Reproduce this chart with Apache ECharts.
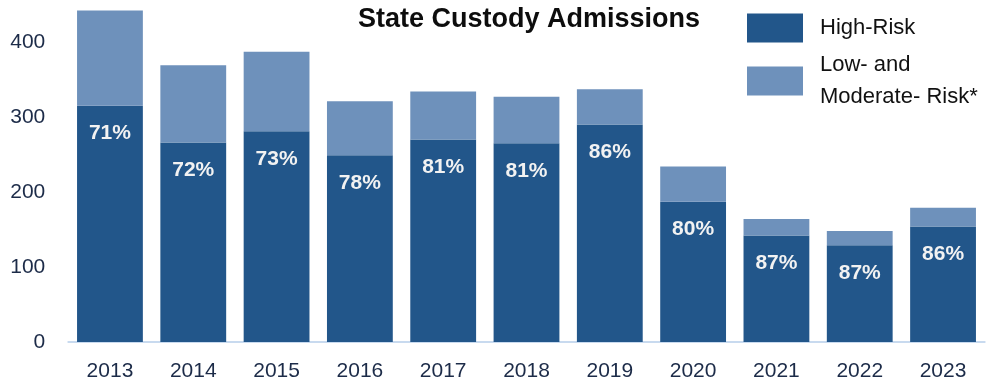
<!DOCTYPE html>
<html>
<head>
<meta charset="utf-8">
<title>State Custody Admissions</title>
<script src="https://cdn.jsdelivr.net/npm/echarts@6/dist/echarts.min.js"></script>
<style>
  html, body { margin: 0; padding: 0; background: #ffffff; }
  #chart { width: 990px; height: 386px; }
</style>
</head>
<body>
<div id="chart"></div>
<script>
// Admission years
const years = ['2013', '2014', '2015', '2016', '2017', '2018', '2019', '2020', '2021', '2022', '2023'];
// High-risk admissions per year
const highRisk = [315, 266, 281, 249, 270, 265, 290, 187, 142, 129, 154];
// Low- and moderate-risk admissions per year
const lowModRisk = [127, 103, 106, 72, 64, 62, 47, 47, 22, 19, 25];
// Value-axis ticks
const yTicks = [0, 100, 200, 300, 400];

const FONT = '"Liberation Sans", Arial, sans-serif';
const DARK = '#22568a';
const LIGHT = '#6e91bb';

// Share of high-risk admissions in each year's total
const shareLabel = (i) => Math.round(highRisk[i] / (highRisk[i] + lowModRisk[i]) * 100) + '%';

const chart = echarts.init(document.getElementById('chart'), null, { renderer: 'canvas' });

chart.setOption({
  animation: false,
  backgroundColor: '#ffffff',
  title: {
    text: 'State Custody Admissions',
    left: 529,
    top: 6,
    textAlign: 'center',
    padding: 0,
    textStyle: { fontFamily: FONT, fontSize: 27, fontWeight: 'bold', color: '#0d0d0d' }
  },
  legend: [
    {
      data: ['High-Risk'],
      left: 747,
      top: 12,
      padding: 0,
      itemWidth: 56,
      itemHeight: 29,
      icon: 'rect',
      selectedMode: false,
      textStyle: { fontFamily: FONT, fontSize: 22, color: '#111111', lineHeight: 32, padding: [0, 0, 0, 12] }
    },
    {
      data: ['Low- and Moderate- Risk*'],
      left: 747,
      top: 49,
      padding: 0,
      itemWidth: 56,
      itemHeight: 29,
      icon: 'rect',
      selectedMode: false,
      formatter: () => 'Low- and\nModerate- Risk*',
      textStyle: { fontFamily: FONT, fontSize: 22, color: '#111111', lineHeight: 32, padding: [0, 0, 0, 12] }
    }
  ],
  grid: { left: 68.3, right: 5.3, top: 4.5, bottom: 44, containLabel: false },
  xAxis: {
    type: 'category',
    data: years,
    axisLine: { show: true, lineStyle: { color: '#c8daef', width: 2 } },
    axisTick: { show: false },
    axisLabel: { fontFamily: FONT, fontSize: 21, color: '#1c2b48', margin: 19 }
  },
  yAxis: {
    type: 'value',
    min: 0,
    max: 450,
    interval: 100,
    axisLine: { show: false },
    axisTick: { show: false },
    splitLine: { show: false },
    axisLabel: {
      fontFamily: FONT, fontSize: 21, color: '#1c2b48', margin: 23,
      showMaxLabel: false,
      formatter: (v) => (yTicks.indexOf(v) >= 0 ? String(v) : '')
    }
  },
  series: [
    {
      name: 'High-Risk',
      type: 'bar',
      stack: 'total',
      barCategoryGap: '21%',
      data: highRisk,
      itemStyle: { color: DARK },
      label: {
        show: true,
        position: 'insideTop',
        distance: 17,
        fontFamily: FONT,
        fontSize: 21,
        fontWeight: 'bold',
        color: '#f2f2f2',
        formatter: (p) => shareLabel(p.dataIndex)
      }
    },
    {
      name: 'Low- and Moderate- Risk*',
      type: 'bar',
      stack: 'total',
      data: lowModRisk,
      itemStyle: { color: LIGHT }
    }
  ]
});
</script>
</body>
</html>
